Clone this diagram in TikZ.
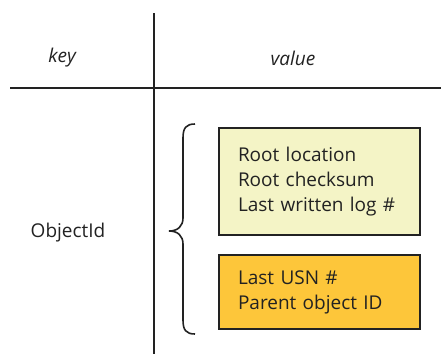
\documentclass[tikz,border=0pt]{standalone}
\usepackage{fontspec}
\setmainfont{Open Sans}
\usepackage{tikz}
\usetikzlibrary{positioning}
\definecolor{rootfill}{HTML}{F4F4C6}
\definecolor{usnfill}{HTML}{FDC63A}
\definecolor{inkline}{HTML}{222222}

\begin{document}
\begin{tikzpicture}[
  x=1pt, y=-1pt,
  font=\fontsize{19}{25}\selectfont,
  tableline/.style={draw=inkline, line width=2pt},
  headlabel/.style={font=\fontsize{19}{25}\selectfont\itshape, text=inkline},
  fieldbox/.style={
    draw=inkline,
    line width=2pt,
    minimum width=201pt,
    text width=163pt,
    inner xsep=19pt,
    align=left,
    text=inkline
  }
]
  % page frame
  \useasboundingbox (0,0) rectangle (441,354);

  % table lines
  \coordinate (vtop) at (154,13);
  \coordinate (vbot) at (154,354);
  \coordinate (hleft) at (10,88);
  \coordinate (hright) at (441,88);
  \draw[tableline] (vtop) -- (vbot);
  \draw[tableline] (hleft) -- (hright);

  % column heads
  \node[headlabel] (keyhead) at (62,58) {key};
  \node[headlabel] (valuehead) at (293,58) {value};

  % key
  \node[text=inkline] (objid) at (68,233) {ObjectId};

  % value boxes
  \node[fieldbox, fill=rootfill, minimum height=107pt] (rootbox) at (319.5,181.5) {
    Root location\\
    Root checksum\\
    Last written log \#
  };
  \node[fieldbox, fill=usnfill, minimum height=74pt] (usnbox) at (319.5,292) {
    Last USN \#\\
    Parent object ID
  };

  % brace
  \draw[line width=1.6pt, inkline]
    (195,124) .. controls (186,124) and (183,128) .. (183,138) -- (183,218)
    .. controls (183,226) and (178,231) .. (169,231)
    .. controls (178,231) and (183,236) .. (183,244) -- (183,320)
    .. controls (183,330) and (186,334) .. (195,334);
\end{tikzpicture}
\end{document}
